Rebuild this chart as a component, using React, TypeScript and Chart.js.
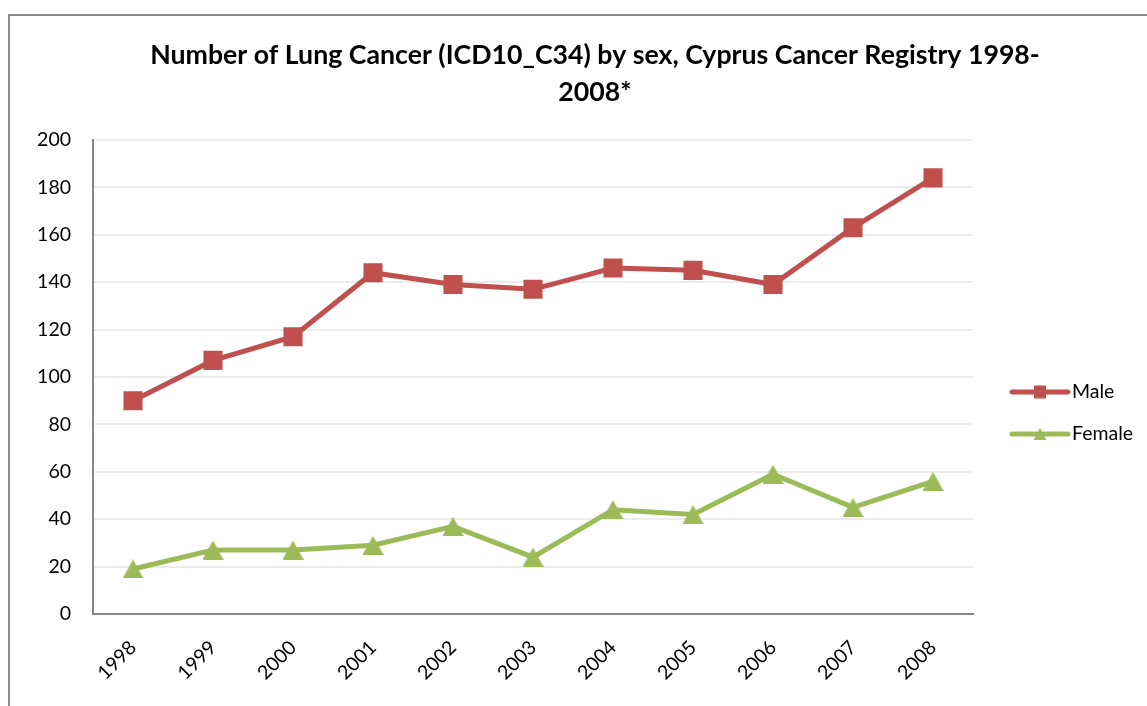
import React, { useEffect, useRef } from "react";
import { Chart, registerables } from "chart.js";

Chart.register(...registerables);

const years = ["1998", "1999", "2000", "2001", "2002", "2003", "2004", "2005", "2006", "2007", "2008"];
const maleCounts = [90, 107, 117, 144, 139, 137, 146, 145, 139, 163, 184];
const femaleCounts = [19, 27, 27, 29, 37, 24, 44, 42, 59, 45, 56];
const seriesNames = ["Male", "Female"];
const yMin = 0;
const yMax = 200;
const yStep = 20;
const titleLines = [
  "Number of Lung Cancer (ICD10_C34) by sex, Cyprus Cancer Registry 1998-",
  "2008*",
];

const MALE_COLOR = "#C0504D";
const FEMALE_COLOR = "#9BBB59";
const FONT = "Lato";
const CANVAS_W = 1190;
const CANVAS_H = 706;

function makeTriangle(color: string, w: number, h: number) {
  const c = document.createElement("canvas");
  c.width = w;
  c.height = h;
  const g = c.getContext("2d")!;
  g.fillStyle = color;
  g.beginPath();
  g.moveTo(w / 2, 0);
  g.lineTo(w, h);
  g.lineTo(0, h);
  g.closePath();
  g.fill();
  return c;
}

const excelLegend = {
  id: "excelLegend",
  afterDraw(chart: any) {
    const ctx = chart.ctx;
    const a = chart.chartArea;
    const x0 = a.right + 39;
    const x1 = a.right + 95;
    const cx = (x0 + x1) / 2;
    const markers = ["rect", "triangle"];
    chart.data.datasets.forEach((ds: any, i: number) => {
      const y = a.top + 252 + i * 42;
      ctx.save();
      ctx.strokeStyle = ds.borderColor;
      ctx.lineWidth = 5;
      ctx.lineCap = "round";
      ctx.beginPath();
      ctx.moveTo(x0, y);
      ctx.lineTo(x1, y);
      ctx.stroke();
      ctx.fillStyle = ds.borderColor;
      if (markers[i] === "rect") {
        ctx.fillRect(cx - 6, y - 6.5, 12, 13);
      } else {
        ctx.beginPath();
        ctx.moveTo(cx, y - 6);
        ctx.lineTo(cx + 6.5, y + 6);
        ctx.lineTo(cx - 6.5, y + 6);
        ctx.closePath();
        ctx.fill();
      }
      ctx.fillStyle = "#000";
      ctx.font = `19.5px ${FONT}`;
      ctx.textBaseline = "middle";
      ctx.textAlign = "left";
      ctx.fillText(ds.label, x1 + 4, y);
      ctx.restore();
    });
  },
};

export default function App() {
  const ref = useRef<HTMLCanvasElement | null>(null);

  useEffect(() => {
    if (!ref.current) return;
    const tri = makeTriangle(FEMALE_COLOR, 21, 19);
    const chart = new Chart(ref.current, {
      type: "line",
      data: {
        labels: years,
        datasets: [
          {
            label: seriesNames[0],
            data: maleCounts,
            borderColor: MALE_COLOR,
            backgroundColor: MALE_COLOR,
            borderWidth: 5,
            pointStyle: "rect",
            pointRadius: 13.5,
            pointBorderWidth: 0,
            pointBackgroundColor: MALE_COLOR,
            tension: 0,
          },
          {
            label: seriesNames[1],
            data: femaleCounts,
            borderColor: FEMALE_COLOR,
            backgroundColor: FEMALE_COLOR,
            borderWidth: 5,
            pointStyle: tri as any,
            pointRadius: 12,
            tension: 0,
          },
        ],
      },
      options: {
        responsive: false,
        animation: false,
        layout: { padding: 0 },
        font: { family: FONT },
        plugins: {
          legend: { display: false },
          tooltip: { enabled: false },
          title: {
            display: true,
            text: titleLines,
            color: "#000",
            font: { family: FONT, size: 26.7, weight: "bold", lineHeight: 37 / 26.7 },
            padding: { top: 36.5, bottom: 29.5 },
          },
        },
        scales: {
          x: {
            offset: true,
            grid: { display: false },
            border: { display: true, color: "#868686", width: 2 },
            ticks: {
              color: "#000",
              font: { family: FONT, size: 19.5 },
              minRotation: 45,
              maxRotation: 45,
              padding: 14,
            },
            afterFit: (s: any) => {
              s.height = 92;
            },
          },
          y: {
            min: yMin,
            max: yMax,
            grid: { color: "#ececec", lineWidth: 2, drawTicks: false },
            border: { display: true, color: "#868686", width: 2 },
            ticks: {
              stepSize: yStep,
              color: "#000",
              font: { family: FONT, size: 19.5 },
              padding: 22,
            },
            afterFit: (s: any) => {
              s.width = 93;
            },
          },
          spacer: {
            type: "linear",
            position: "right",
            display: true,
            grid: { display: false, drawTicks: false },
            border: { display: false },
            ticks: { display: false },
            afterFit: (s: any) => {
              s.width = CANVAS_W - 973;
            },
          },
        },
      } as any,
      plugins: [excelLegend],
    });
    return () => chart.destroy();
  }, []);

  return (
    <div
      style={{
        position: "fixed",
        left: 0,
        top: 0,
        width: 1147,
        height: 706,
        overflow: "hidden",
        background: "#fff",
      }}
    >
      <div
        style={{
          position: "absolute",
          left: 8,
          top: 14,
          width: 1400,
          height: 900,
          borderLeft: "2px solid #898989",
          borderTop: "2px solid #898989",
        }}
      />
      <canvas
        ref={ref}
        width={CANVAS_W}
        height={CANVAS_H}
        style={{ position: "absolute", left: 0, top: 0, width: CANVAS_W, height: CANVAS_H }}
      />
    </div>
  );
}
